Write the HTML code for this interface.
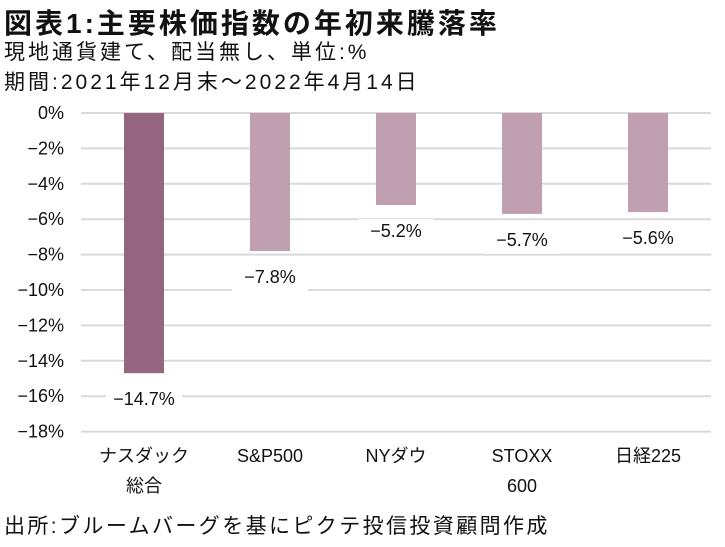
<!DOCTYPE html>
<html><head><meta charset="utf-8"><style>
body{margin:0;width:725px;height:547px;background:#fff;overflow:hidden;font-family:"Liberation Sans","Noto Sans CJK JP",sans-serif;}
.t{position:absolute;left:4px;white-space:nowrap;color:#111}
</style></head><body>
<div class="t" style="top:2px;font-size:28px;font-weight:bold;letter-spacing:3px">図表1:主要株価指数の年初来騰落率</div>
<div class="t" style="top:36px;font-size:21px;letter-spacing:3px">現地通貨建て、配当無し、単位:%</div>
<div class="t" style="top:66px;font-size:21px;letter-spacing:3px">期間:2021年12月末～2022年4月14日</div>
<div class="t" style="top:510px;font-size:21px;letter-spacing:2.4px">出所:ブルームバーグを基にピクテ投信投資顧問作成</div>
<svg id="c" width="725" height="547" style="position:absolute;left:0;top:0"></svg>
<script>
const categories=[["ナスダック","総合"],["S&P500"],["NYダウ"],["STOXX","600"],["日経225"]];
const values=[-14.7,-7.8,-5.2,-5.7,-5.6];
const ticks=[0,-2,-4,-6,-8,-10,-12,-14,-16,-18];
const svg=document.getElementById('c');const NS='http://www.w3.org/2000/svg';
const x0=81,x1=711,y0=113,ppu=17.7;
const y=v=>y0-v*ppu;
const bw=(x1-x0)/categories.length;
const xc=i=>x0+bw*(i+0.5);
function mk(t,a){const e=document.createElementNS(NS,t);for(const k in a)e.setAttribute(k,a[k]);svg.appendChild(e);return e;}
ticks.forEach(t=>{
 const l=mk('line',{x1:x0,x2:x1,y1:y(t),y2:y(t),stroke:'#d9d9d9','stroke-width':2});
 
 
 const tx=mk('text',{x:64,y:y(t)+6,'text-anchor':'end','font-size':18,fill:'#111'});
 tx.textContent=(t===0?'0':'−'+(-t))+'%';
 
 
});
values.forEach((v,i)=>{
 const r=mk('rect',{x:xc(i)-20,y:y(0),width:40,height:y(v)-y(0),fill:i===0?'#95667f':'#c09fb1'});
 
 
 const ly=y(v)+32;
 const bg=mk('rect',{x:xc(i)-38,y:ly-18,width:76,height:26,fill:'#fff'});
 
 
 const t=mk('text',{x:xc(i),y:ly,'text-anchor':'middle','font-size':18,fill:'#111'});
 t.textContent='−'+(-v).toFixed(1)+'%';
 
 
 categories[i].forEach((s,j)=>{
  const c=mk('text',{x:xc(i),y:462+j*30,'text-anchor':'middle','font-size':18,fill:'#111'});
  c.textContent=s;
  
  
 });
});
</script>
</body></html>
